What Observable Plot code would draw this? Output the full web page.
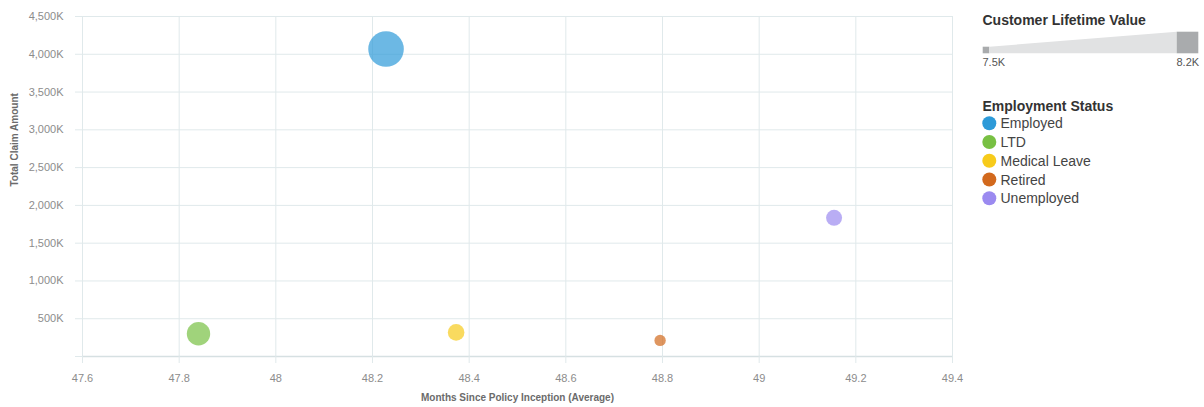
<!DOCTYPE html>
<html>
<head>
<meta charset="utf-8">
<script src="https://cdn.jsdelivr.net/npm/d3@7"></script>
<script src="https://cdn.jsdelivr.net/npm/@observablehq/plot@0.6"></script>
<style>
  html, body { margin: 0; padding: 0; background: #fff; }
  #wrap { position: relative; width: 1204px; height: 407px; font-family: "Liberation Sans", Arial, Helvetica, sans-serif; }
  #legend { position: absolute; left: 960px; top: 0; }
</style>
</head>
<body>
<div id="wrap"><div id="chart"></div><svg id="legend" width="244" height="220"></svg></div>
<script>
// ---- data ----
const statuses = ["Employed", "LTD", "Medical Leave", "Retired", "Unemployed"];
const monthsAvg = [48.228, 47.840, 48.373, 48.795, 49.155];
const totalClaim = [4069000, 301000, 319000, 213000, 1835000];
const lifetimeValue = [8200, 7847, 7650, 7500, 7633];
const statusColors = ["#2d9ad8", "#78c043", "#f7cb1b", "#d2691d", "#9b8af0"];
const xTicks = [47.6, 47.8, 48, 48.2, 48.4, 48.6, 48.8, 49, 49.2, 49.4];
const yTicks = [0, 500000, 1000000, 1500000, 2000000, 2500000, 3000000, 3500000, 4000000, 4500000];
const sizeLegendLabels = ["7.5K", "8.2K"];

const data = statuses.map((s, i) => ({
  status: s, months: monthsAvg[i], claim: totalClaim[i], clv: lifetimeValue[i]
}));

const gridColor = "#e0e9eb";
const tickText = "#8c8c8c";
const labelColor = "#6b6b6b";
const fontFam = "Liberation Sans, Arial, Helvetica, sans-serif";

const chart = Plot.plot({
  width: 1204,
  height: 407,
  marginLeft: 82,
  marginRight: 252,
  marginTop: 16,
  marginBottom: 51,
  style: { fontFamily: fontFam, fontSize: "11px", background: "white" },
  x: { domain: [47.6, 49.4] },
  y: { domain: [0, 4500000] },
  r: { type: "linear", domain: [7500, 8200], range: [5.7, 17.8] },
  color: { domain: statuses, range: statusColors },
  marks: [
    Plot.gridX(xTicks, { stroke: gridColor, strokeOpacity: 1 }),
    Plot.gridY(yTicks, { stroke: gridColor, strokeOpacity: 1 }),
    Plot.ruleY([0], { stroke: "#d6e0e2", strokeWidth: 1.5 }),
    Plot.axisX(xTicks, {
      tickSize: 7, tickPadding: 11, stroke: gridColor, strokeOpacity: 1, fill: tickText,
      tickFormat: d => String(+d.toFixed(1)), label: null, fontSize: 11
    }),
    Plot.axisY(yTicks, {
      tickSize: 7, tickPadding: 12, stroke: gridColor, strokeOpacity: 1, fill: tickText,
      tickFormat: d => d === 0 ? "" : d3.format(",")(d / 1000) + "K", label: null, fontSize: 11
    }),
    Plot.text(["Months Since Policy Inception (Average)"], {
      frameAnchor: "bottom", dy: 44, fontWeight: "bold", fontSize: 10, fill: labelColor
    }),
    Plot.text(["Total Claim Amount"], {
      frameAnchor: "left", dx: -68, rotate: -90, fontWeight: "bold", fontSize: 10, fill: labelColor
    }),
    Plot.dot(data, {
      x: "months", y: "claim", r: "clv", fill: "status", fillOpacity: 0.7, stroke: "none"
    })
  ]
});
document.getElementById("chart").appendChild(chart);

// ---- legend ----
const lg = d3.select("#legend");
lg.append("text").attr("x", 22.5).attr("y", 24.5)
  .attr("font-family", fontFam).attr("font-size", 14).attr("font-weight", "bold").attr("fill", "#333")
  .text("Customer Lifetime Value");
lg.append("rect").attr("x", 22.7).attr("y", 46.7).attr("width", 6.6).attr("height", 6.6).attr("fill", "#a9abad");
lg.append("polygon").attr("points", "29.3,46.7 216.7,31.7 216.7,53.3 29.3,53.3").attr("fill", "#e1e2e3");
lg.append("rect").attr("x", 216.7).attr("y", 31.7).attr("width", 21.6).attr("height", 21.6).attr("fill", "#a9abad");
lg.append("text").attr("x", 22.5).attr("y", 66.3)
  .attr("font-family", fontFam).attr("font-size", 11).attr("fill", "#555").text(sizeLegendLabels[0]);
lg.append("text").attr("x", 216.5).attr("y", 66.3)
  .attr("font-family", fontFam).attr("font-size", 11).attr("fill", "#555").text(sizeLegendLabels[1]);

lg.append("text").attr("x", 22.5).attr("y", 111)
  .attr("font-family", fontFam).attr("font-size", 14).attr("font-weight", "bold").attr("fill", "#333")
  .text("Employment Status");
statuses.forEach((s, i) => {
  const cy = 123.3 + i * 18.75;
  lg.append("circle").attr("cx", 29.3).attr("cy", cy).attr("r", 7).attr("fill", statusColors[i]);
  lg.append("text").attr("x", 40.5).attr("y", cy + 5)
    .attr("font-family", fontFam).attr("font-size", 14).attr("fill", "#444").text(s);
});
</script>
</body>
</html>
